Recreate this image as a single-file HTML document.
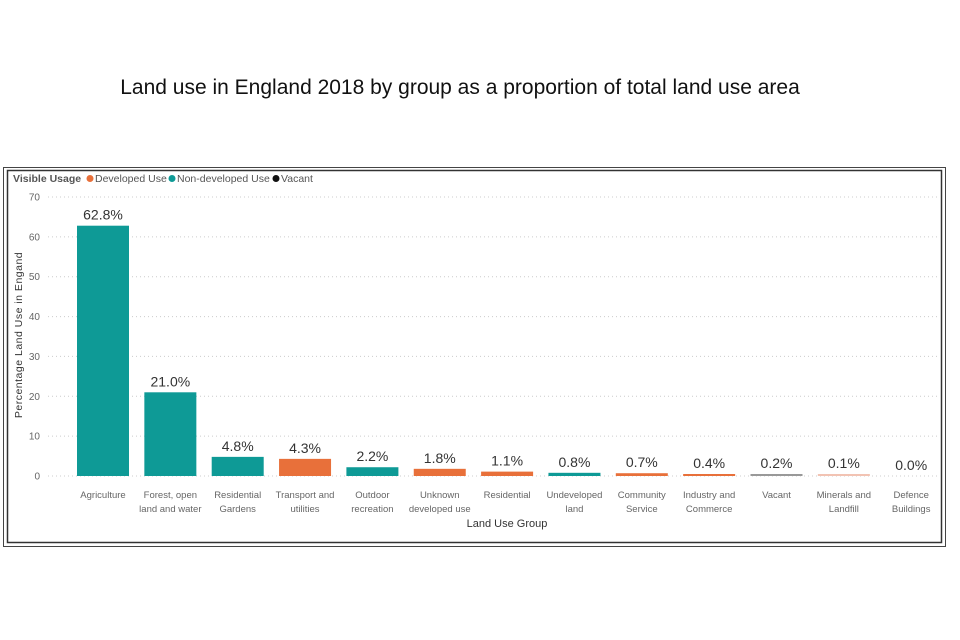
<!DOCTYPE html>
<html><head><meta charset="utf-8"><style>
body{margin:0;background:#fff;width:960px;height:640px;overflow:hidden}
svg{display:block;font-family:"Liberation Sans",sans-serif}
</style></head><body>
<svg id="chart" width="960" height="640">
<text x="460" y="94" font-size="21" text-anchor="middle" fill="#111">Land use in England 2018 by group as a proportion of total land use area</text>
<rect x="3.5" y="167.5" width="942" height="379" fill="none" stroke="#444" stroke-width="1"/>
<rect x="7.5" y="170.5" width="934" height="372" fill="none" stroke="#333" stroke-width="1.5"/>
<g font-size="10.5">
<text x="13" y="182" font-weight="bold" fill="#555">Visible Usage</text>
<circle cx="90" cy="178.5" r="3.5" fill="#E8703A"/>
<text x="95" y="182" fill="#555">Developed Use</text>
<circle cx="172" cy="178.5" r="3.5" fill="#0E9A96"/>
<text x="177" y="182" fill="#555">Non-developed Use</text>
<circle cx="276" cy="178.5" r="3.5" fill="#111"/>
<text x="281" y="182" fill="#555">Vacant</text>
</g>
<text transform="translate(22,335) rotate(-90)" text-anchor="middle" font-size="10.5" fill="#333" letter-spacing="0.5">Percentage Land Use in Engand</text>
<text x="507" y="527" text-anchor="middle" font-size="11" fill="#333">Land Use Group</text>
<g id="grid"></g><g id="bars"></g>
</svg>
<script>
const categories=["Agriculture","Forest, open|land and water","Residential|Gardens","Transport and|utilities","Outdoor|recreation","Unknown|developed use","Residential","Undeveloped|land","Community|Service","Industry and|Commerce","Vacant","Minerals and|Landfill","Defence|Buildings"];
const values=[62.8,21.0,4.8,4.3,2.2,1.8,1.1,0.8,0.7,0.4,0.2,0.1,0.0];
const groups=["non","non","non","dev","non","dev","dev","non","dev","dev","vac","min","dev"];
const yTicks=[0,10,20,30,40,50,60,70];
const colors={non:"#0E9A96",dev:"#E8703A",vac:"#999999",min:"#F2C3B3"};
const ns="http://www.w3.org/2000/svg";
const y0=476,yTop=197,yMax=70,x0=103,step=67.35,bw=52;
const yS=v=>y0-(v/yMax)*(y0-yTop);
const xS=i=>x0+i*step;
function mk(t,a,p){const e=document.createElementNS(ns,t);for(const k in a)e.setAttribute(k,a[k]);p.appendChild(e);return e;}
const grid=document.getElementById('grid'),bars=document.getElementById('bars');
yTicks.forEach(t=>{
 const l=mk('line',{x1:48,x2:940,y1:yS(t),y2:yS(t),stroke:'#ccc','stroke-dasharray':'1,3'},grid);
 
 
 const tx=mk('text',{x:40,y:yS(t)+3.5,'text-anchor':'end','font-size':10,fill:'#666'},grid);
 tx.textContent=t;
 
 
});
values.forEach((v,i)=>{
 let h=y0-yS(v); if(v>0&&h<2)h=2;
 const r=mk('rect',{x:xS(i)-bw/2,y:y0-h,width:bw,height:h,fill:colors[groups[i]]},bars);
 
 
 const lb=mk('text',{x:xS(i),y:y0-h-6,'text-anchor':'middle','font-size':14,fill:'#333'},bars);
 lb.textContent=v.toFixed(1)+'%';
 
 
 categories[i].split('|').forEach((s,j)=>{
  const c=mk('text',{x:xS(i),y:498+j*14,'text-anchor':'middle','font-size':9.5,fill:'#666'},bars);
  c.textContent=s;
  
  
 });
});
</script>
</body></html>
